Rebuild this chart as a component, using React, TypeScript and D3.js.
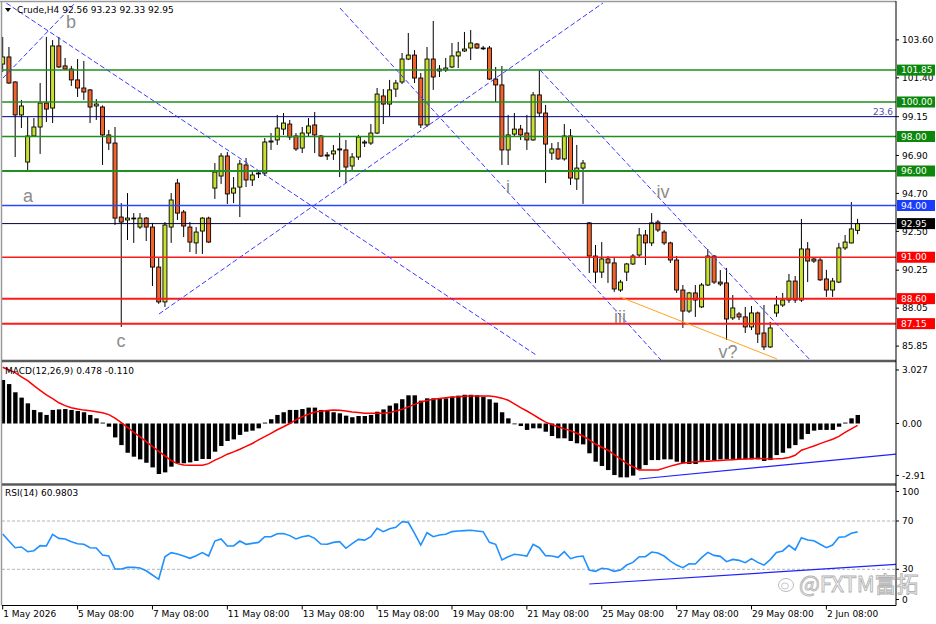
import React from "react";
import * as d3 from "d3";

type Candle = [number, number, number, number]; // open, high, low, close

const ohlc: Candle[] = [
  [102.2, 103.77, 101.74, 102.61], [102.61, 103.19, 101.05, 101.1], [101.16, 101.2, 96.81, 99.25],
  [99.25, 100.12, 98.49, 99.77], [96.52, 99.13, 96.06, 98.03], [98.03, 99.07, 97.98, 98.55],
  [98.55, 101.1, 96.99, 99.94], [99.94, 103.77, 98.84, 99.59], [99.65, 103.59, 98.78, 103.25],
  [103.25, 103.77, 101.97, 102.03], [102.09, 102.55, 101.86, 101.91], [101.91, 102.09, 100.93, 101.28],
  [101.28, 102.49, 100.29, 100.81], [100.81, 102.38, 100.12, 100.58], [100.7, 100.75, 98.78, 99.71],
  [99.77, 100.17, 98.96, 99.88], [99.71, 99.8, 96.35, 98.09], [98.09, 98.38, 97.22, 97.62],
  [97.62, 98.55, 92.87, 93.27], [93.33, 94.14, 86.96, 93.04], [93.16, 94.72, 92.0, 93.27],
  [93.27, 93.56, 91.83, 93.25], [92.75, 93.56, 92.64, 93.27], [93.27, 93.33, 91.94, 92.75],
  [92.75, 92.99, 89.33, 90.43], [90.43, 90.96, 88.3, 88.41], [88.41, 93.04, 88.12, 92.87],
  [92.75, 94.72, 91.83, 94.32], [95.3, 95.54, 93.16, 93.56], [93.62, 93.74, 92.17, 92.81],
  [92.75, 93.04, 91.3, 91.88], [91.83, 92.75, 91.19, 92.46], [92.52, 93.33, 91.19, 93.27],
  [93.27, 93.35, 91.83, 91.88], [95.01, 96.46, 94.38, 95.94], [95.71, 97.04, 95.25, 96.87],
  [96.87, 97.1, 94.09, 94.67], [94.72, 95.65, 94.14, 95.01], [95.07, 96.64, 93.33, 96.41],
  [96.35, 96.75, 95.07, 95.48], [95.48, 96.06, 95.13, 95.77], [95.83, 96.06, 95.59, 95.88],
  [95.88, 97.91, 95.71, 97.68], [97.68, 98.2, 97.22, 97.74], [97.8, 99.25, 97.51, 98.49],
  [98.43, 99.36, 98.09, 98.78], [98.72, 98.96, 97.8, 97.97], [98.03, 98.2, 97.16, 97.28],
  [97.33, 98.55, 97.04, 98.2], [98.2, 99.07, 97.97, 98.61], [98.67, 99.42, 97.04, 98.09],
  [98.03, 98.09, 96.81, 96.87], [96.93, 97.1, 96.64, 96.87], [96.99, 97.51, 96.64, 97.16],
  [97.28, 98.2, 95.65, 97.22], [97.22, 97.8, 95.3, 96.23], [96.29, 97.04, 96.06, 96.81],
  [96.81, 98.09, 96.64, 97.97], [97.62, 97.8, 97.39, 97.68], [97.62, 98.72, 97.51, 98.2],
  [98.2, 100.81, 98.14, 100.46], [100.35, 100.75, 98.72, 99.88], [99.88, 101.28, 99.19, 100.7],
  [100.75, 101.28, 100.29, 101.1], [101.16, 102.84, 101.04, 102.49], [102.49, 104.0, 102.43, 102.72],
  [102.72, 103.01, 101.1, 101.39], [101.39, 101.68, 98.49, 98.67], [98.67, 103.19, 98.55, 102.49],
  [102.49, 104.7, 100.7, 101.45], [101.91, 102.14, 101.45, 101.8], [101.86, 102.55, 101.74, 101.97],
  [102.03, 103.42, 101.97, 102.67], [102.67, 103.48, 101.97, 102.9], [102.96, 104.06, 102.9, 103.07],
  [103.13, 104.17, 102.43, 103.42], [103.36, 103.42, 103.07, 103.13], [103.13, 103.25, 103.01, 103.1],
  [103.13, 103.25, 101.28, 101.33], [101.33, 102.03, 100.0, 100.99], [100.99, 102.09, 96.35, 97.22],
  [97.22, 99.25, 96.35, 98.09], [98.14, 99.36, 98.03, 98.43], [98.43, 98.67, 97.8, 98.09],
  [98.2, 99.25, 97.22, 97.8], [97.8, 100.58, 97.75, 100.41], [100.41, 101.86, 99.13, 99.36],
  [99.36, 99.83, 95.3, 97.56], [97.04, 97.62, 96.64, 97.28], [97.28, 97.68, 96.64, 96.7],
  [96.7, 98.72, 96.6, 98.03], [98.03, 98.43, 95.19, 95.59], [95.54, 97.51, 94.9, 96.17],
  [96.17, 96.64, 94.09, 96.46], [92.99, 93.04, 90.09, 91.07], [91.07, 91.71, 89.51, 90.14],
  [90.14, 91.88, 89.8, 90.9], [90.9, 91.07, 89.51, 90.67], [90.67, 91.01, 88.99, 89.16],
  [89.1, 89.69, 88.99, 89.56], [90.14, 90.67, 89.62, 90.61], [90.61, 91.19, 90.55, 91.07],
  [91.13, 92.7, 90.96, 92.29], [92.29, 92.58, 90.55, 91.83], [91.83, 93.56, 91.65, 92.99],
  [93.04, 93.16, 92.46, 92.58], [92.46, 92.58, 91.71, 91.83], [91.83, 91.9, 90.67, 90.84],
  [90.84, 91.07, 88.93, 89.1], [89.1, 89.39, 86.9, 87.88], [87.88, 88.99, 87.77, 88.93],
  [88.93, 89.39, 87.54, 88.52], [88.12, 89.51, 88.06, 89.39], [89.39, 91.48, 89.33, 91.07],
  [91.07, 91.13, 89.45, 89.56], [89.56, 90.26, 89.33, 89.45], [89.51, 90.38, 86.2, 87.42],
  [87.48, 88.81, 87.36, 88.06], [87.71, 87.83, 87.36, 87.54], [87.54, 88.12, 86.61, 86.96],
  [86.96, 88.17, 86.78, 87.77], [87.77, 87.85, 86.03, 86.55], [86.61, 88.23, 85.62, 85.8],
  [85.8, 87.25, 85.74, 86.9], [87.77, 88.75, 87.54, 88.23], [88.23, 88.93, 88.12, 88.52],
  [88.52, 90.03, 88.35, 89.62], [89.62, 89.91, 88.35, 88.52], [88.52, 93.22, 88.41, 91.48],
  [91.48, 91.88, 89.56, 90.78], [90.9, 91.01, 90.67, 90.78], [90.84, 90.96, 89.62, 89.69],
  [89.74, 90.27, 88.7, 89.1], [89.1, 89.8, 88.7, 89.62], [89.56, 91.83, 89.5, 91.54],
  [91.54, 92.29, 91.42, 91.88], [91.83, 94.2, 91.8, 92.64], [92.56, 93.23, 92.33, 92.95],
];

const macdHist = [
  2.44, 2.21, 1.75, 1.45, 1.13, 0.76, 0.63, 0.48, 0.76, 0.79,
  0.81, 0.76, 0.7, 0.63, 0.48, 0.29, 0.05, -0.18, -0.78, -1.21,
  -1.64, -1.86, -2.01, -2.2, -2.46, -2.83, -2.74, -2.42, -2.23, -2.23,
  -2.18, -2.1, -1.99, -1.99, -1.58, -1.26, -0.98, -0.89, -0.64, -0.46,
  -0.4, -0.27, 0.05, 0.24, 0.48, 0.63, 0.76, 0.76, 0.81, 0.89,
  0.89, 0.76, 0.72, 0.63, 0.57, 0.44, 0.35, 0.42, 0.42, 0.48,
  0.66, 0.79, 1.0, 1.13, 1.36, 1.58, 1.58, 1.28, 1.41, 1.41,
  1.41, 1.41, 1.5, 1.56, 1.61, 1.61, 1.58, 1.5, 1.36, 1.17,
  0.63, 0.29, -0.02, -0.14, -0.36, -0.27, -0.27, -0.46, -0.7, -0.83,
  -0.83, -0.98, -1.11, -1.17, -1.67, -2.14, -2.38, -2.61, -2.89, -3.02,
  -3.02, -2.92, -2.57, -2.33, -2.05, -2.05, -2.01, -2.01, -2.14, -2.23,
  -2.27, -2.27, -2.14, -2.05, -2.05, -2.01, -2.01, -2.01, -2.01, -2.01,
  -2.01, -2.01, -2.1, -2.05, -1.77, -1.64, -1.39, -1.21, -0.89, -0.59,
  -0.4, -0.36, -0.36, -0.36, -0.18, 0.05, 0.29, 0.478,
];

const macdSignal = [
  3.15, 3.0, 2.85, 2.62, 2.4, 2.12, 1.86, 1.6, 1.39, 1.16,
  1.0, 0.88, 0.81, 0.75, 0.71, 0.66, 0.6, 0.5, 0.3, 0.05,
  -0.22, -0.49, -0.75, -1.02, -1.29, -1.56, -1.82, -2.08, -2.25, -2.33,
  -2.34, -2.34, -2.34, -2.25, -2.05, -1.9, -1.72, -1.59, -1.44, -1.28,
  -1.12, -0.92, -0.74, -0.55, -0.35, -0.18, 0.0, 0.2, 0.38, 0.52,
  0.64, 0.68, 0.73, 0.76, 0.74, 0.7, 0.65, 0.62, 0.58, 0.57,
  0.57, 0.57, 0.61, 0.7, 0.79, 0.93, 1.07, 1.2, 1.29, 1.36,
  1.4, 1.44, 1.48, 1.5, 1.53, 1.54, 1.54, 1.54, 1.54, 1.5,
  1.42, 1.3, 1.1, 0.89, 0.7, 0.5, 0.28, 0.08, -0.06, -0.18,
  -0.3, -0.4, -0.55, -0.7, -0.92, -1.15, -1.33, -1.5, -1.75, -1.98,
  -2.23, -2.42, -2.6, -2.61, -2.61, -2.61, -2.5, -2.39, -2.3, -2.22,
  -2.18, -2.15, -2.13, -2.11, -2.09, -2.07, -2.05, -2.03, -2.01, -1.99,
  -1.97, -1.95, -1.97, -1.99, -1.98, -1.96, -1.9, -1.78, -1.5, -1.38,
  -1.26, -1.13, -1.0, -0.88, -0.72, -0.5, -0.3, -0.11,
];

const rsiValues = [
  59.2, 53.4, 47.9, 48.5, 44.6, 45.4, 49.6, 49.3, 59.0, 55.6,
  55.1, 52.9, 51.2, 50.7, 47.9, 47.6, 41.8, 41.0, 30.2, 30.2,
  31.6, 31.6, 31.1, 28.8, 25.3, 21.7, 40.4, 43.8, 42.7, 41.0,
  39.1, 41.3, 43.8, 41.0, 53.4, 55.1, 49.3, 49.3, 53.4, 50.7,
  51.5, 52.3, 57.0, 57.0, 59.5, 59.7, 57.9, 55.1, 57.0, 57.9,
  55.6, 50.9, 50.7, 52.3, 52.9, 47.4, 51.2, 54.8, 54.2, 57.0,
  63.9, 61.2, 63.6, 64.8, 69.4, 68.9, 59.7, 50.1, 60.3, 57.0,
  58.4, 59.0, 61.2, 61.7, 62.0, 62.3, 61.7, 61.2, 52.3, 50.7,
  37.7, 40.4, 42.4, 41.8, 41.0, 50.7, 47.9, 41.3, 41.0, 39.9,
  44.6, 38.8, 40.4, 41.0, 29.4, 28.3, 30.8, 30.2, 28.3, 29.4,
  33.5, 35.7, 40.4, 40.4, 44.3, 43.5, 41.0, 36.8, 33.5, 31.3,
  34.6, 34.4, 39.6, 44.0, 41.5, 40.7, 36.3, 38.2, 37.4, 35.5,
  38.8, 35.7, 33.5, 38.0, 44.0, 45.2, 49.8, 46.0, 56.2, 54.3,
  53.7, 50.7, 47.9, 50.1, 56.5, 57.0, 59.8, 60.9803,
];

const resistanceLevels = [101.85, 100.0, 98.0, 96.0];
const supportLevels = [91.0, 88.6, 87.15];
const pivotLevel = 94.0;
const fibLevel = 99.15;
const fibText = "23.6";
const lastPrice = 92.95;

const priceTicks = [103.6, 101.4, 99.15, 96.9, 94.7, 92.5, 90.25, 88.05, 85.85];
const macdTicks = [3.0, 0, -2.91];
const macdTickText = ["3.027", "0.00", "-2.91"];
const rsiTicks = [100, 70, 30, 0];
const rsiLevels = [70, 30];
const dateLabels = [
  "1 May 2026", "5 May 08:00", "7 May 08:00", "11 May 08:00", "13 May 08:00", "15 May 08:00",
  "19 May 08:00", "21 May 08:00", "25 May 08:00", "27 May 08:00", "29 May 08:00", "2 Jun 08:00",
];
const barsPerLabel = 12;

// wave counts: [text, bar, price]
const waveLabels: [string, number, number][] = [
  ["b", 10.95, 104.3], ["a", 4.05, 94.2], ["c", 18.96, 85.8], ["i", 80.98, 94.72],
  ["iv", 105.82, 94.43], ["iii", 98.93, 87.19], ["v?", 116.23, 85.16],
];

// dashed channel lines: [bar0, price0, bar1, price1]
const channelLines: [number, number, number, number][] = [
  [-0.4, 105.97, 85.5, 85.33],
  [0.05, 101.39, 11.6, 105.74],
  [25.05, 87.71, 96.2, 105.74],
  [54.05, 105.45, 105.5, 85.04],
  [86.1, 101.86, 129.4, 85.04],
];
const wedgeLine: [number, number, number, number] = [98.9, 88.7, 124.1, 85.1];
const macdTrend: [number, number, number, number] = [102, -3.11, 143.2, -1.71];
const rsiTrend: [number, number, number, number] = [94, 17.8, 143.2, 34.1];

export default function App() {
  const W = 936, H = 624;
  const L = 2, R = 896;
  const pTop = 2, pBot = 360, mTop = 362, mBot = 483.5, rTop = 485.5, rBot = 605.5;
  const font = "'DejaVu Sans', Verdana, sans-serif";

  const x = d3.scaleLinear().domain([0, 137]).range([2.7, 2.7 + 6.24 * 137]);
  const yP = d3.scaleLinear().domain([85.043, 105.797]).range([pBot, pTop]);
  const yM = d3.scaleLinear().domain([-3.363, 3.447]).range([mBot, mTop]);
  const yR = d3.scaleLinear().domain([0, 100]).range([rBot, 484.8]);

  const signalPath = d3.line<number>().x((_, i) => x(i)).y((d) => yM(d))(macdSignal) || "";
  const rsiPath = d3.line<number>().x((_, i) => x(i)).y((d) => yR(d))(rsiValues) || "";

  const bull = "#c9e033", bear = "#f2632b";
  const green = "#1f8f1f", red = "#ff1a1a";
  const last = rsiValues.length - 1;

  const levelBox = (p: number, bg: string, key: string) => (
    <g key={key}>
      <rect x={897} y={yP(p) - 5.5} width={38} height={11} fill={bg} />
      <text x={901} y={yP(p)} dy="0.35em" fontSize={9} fill="#fff" fontFamily={font}>{p.toFixed(2)}</text>
    </g>
  );

  return (
    <svg width={W} height={H} style={{ position: "absolute", left: 0, top: 0, background: "#fff" }}>
      <defs>
        <clipPath id="cp"><rect x={L} y={pTop} width={R - L} height={pBot - pTop} /></clipPath>
        <clipPath id="cm"><rect x={L} y={mTop} width={R - L} height={mBot - mTop} /></clipPath>
        <clipPath id="cr"><rect x={L} y={rTop} width={R - L} height={rBot - rTop} /></clipPath>
      </defs>
      <rect x={0} y={0} width={W} height={H} fill="#fff" />

      {/* price pane */}
      <g clipPath="url(#cp)">
        {ohlc.map(([o, h, l, c], i) => {
          const up = c >= o;
          const top = yP(Math.max(o, c)), bot = yP(Math.min(o, c));
          return (
            <g key={i}>
              <line x1={x(i)} x2={x(i)} y1={yP(h)} y2={yP(l)} stroke="#000" strokeWidth={1} />
              <rect x={x(i) - 2} y={top} width={4} height={Math.max(bot - top, 0.8)}
                fill={up ? bull : bear} stroke="#000" strokeWidth={0.9} />
            </g>
          );
        })}
        {resistanceLevels.map((p, i) => (
          <line key={"r" + i} x1={L} x2={R} y1={yP(p)} y2={yP(p)} stroke={green} strokeWidth={p === 96 ? 2 : 1.5} />
        ))}
        {supportLevels.map((p, i) => (
          <line key={"s" + i} x1={L} x2={R} y1={yP(p)} y2={yP(p)} stroke={red} strokeWidth={p === 91 ? 1.5 : 2} />
        ))}
        <line x1={L} x2={R} y1={yP(pivotLevel)} y2={yP(pivotLevel)} stroke="#2848ff" strokeWidth={1.5} />
        <line x1={L} x2={R} y1={yP(fibLevel)} y2={yP(fibLevel)} stroke="#000080" strokeWidth={1} />
        <line x1={L} x2={R} y1={yP(lastPrice)} y2={yP(lastPrice)} stroke="#00003c" strokeWidth={1} />
        {channelLines.map(([b0, p0, b1, p1], i) => (
          <line key={"c" + i} x1={x(b0)} y1={yP(p0)} x2={x(b1)} y2={yP(p1)}
            stroke="#3a3aff" strokeWidth={1} strokeDasharray="5 2.5" />
        ))}
        <line x1={x(wedgeLine[0])} y1={yP(wedgeLine[1])} x2={x(wedgeLine[2])} y2={yP(wedgeLine[3])}
          stroke="#ffa51e" strokeWidth={1} />
        {waveLabels.map(([t, b, p]) => (
          <text key={t} x={x(b)} y={yP(p)} textAnchor="middle" fontSize={18} fill="#8c8c8c"
            fontFamily="'Liberation Sans', Arial, sans-serif">{t}</text>
        ))}
        <text x={893} y={yP(fibLevel) - 2} textAnchor="end" fontSize={9} fill="#5050b0" fontFamily={font}>{fibText}</text>
      </g>
      {/* header */}
      <path d="M5,8 L11,8 L8,12 Z" fill="#000" />
      <text x={17} y={13} fontSize={9} fontFamily={font} fill="#000">
        {`Crude,H4  ${ohlc[last].map((v) => v.toFixed(2)).join(" ")}`}
      </text>

      {/* price axis */}
      {priceTicks.map((p) => (
        <g key={p}>
          <line x1={R} x2={R + 3} y1={yP(p)} y2={yP(p)} stroke="#000" />
          <text x={902} y={yP(p)} dy="0.35em" fontSize={9} fontFamily={font} fill="#000">{p.toFixed(2)}</text>
        </g>
      ))}
      {resistanceLevels.map((p, i) => levelBox(p, "#0b870b", "rb" + i))}
      {levelBox(pivotLevel, "#1a3cff", "pv")}
      {levelBox(lastPrice, "#000", "lp")}
      {supportLevels.map((p, i) => levelBox(p, "#ff0000", "sb" + i))}

      {/* MACD pane */}
      <g clipPath="url(#cm)">
        {macdHist.map((v, i) => (
          <rect key={i} x={x(i) - 2} width={4.4} y={Math.min(yM(0), yM(v))}
            height={Math.max(Math.abs(yM(v) - yM(0)), 0.8)} fill="#000" />
        ))}
        <path d={signalPath} fill="none" stroke="#ff0000" strokeWidth={1.5} />
        <line x1={x(macdTrend[0])} y1={yM(macdTrend[1])} x2={x(macdTrend[2])} y2={yM(macdTrend[3])}
          stroke="#2020ff" strokeWidth={1.2} />
      </g>
      <text x={5} y={374} fontSize={9} fontFamily={font} fill="#000">
        {`MACD(12,26,9) ${macdHist[last].toFixed(3)} ${macdSignal[last].toFixed(3)}`}
      </text>
      {macdTicks.map((v, i) => (
        <g key={"m" + i}>
          <line x1={R} x2={R + 3} y1={yM(v)} y2={yM(v)} stroke="#000" />
          <text x={902} y={yM(v)} dy="0.35em" fontSize={9} fontFamily={font} fill="#000">{macdTickText[i]}</text>
        </g>
      ))}

      {/* RSI pane */}
      <g clipPath="url(#cr)">
        {rsiLevels.map((v) => (
          <line key={v} x1={L} x2={R} y1={yR(v)} y2={yR(v)} stroke="#b4b4b4" strokeDasharray="3 2" strokeWidth={1} />
        ))}
        <path d={rsiPath} fill="none" stroke="#1e90ff" strokeWidth={1.6} />
        <line x1={x(rsiTrend[0])} y1={yR(rsiTrend[1])} x2={x(rsiTrend[2])} y2={yR(rsiTrend[3])}
          stroke="#2020ff" strokeWidth={1.2} />
      </g>
      <text x={5} y={496} fontSize={9} fontFamily={font} fill="#000">
        {`RSI(14) ${rsiValues[last].toFixed(4)}`}
      </text>
      {rsiTicks.map((v) => {
        const yy = Math.min(Math.max(yR(v), rTop + 6), rBot - 6);
        return (
          <g key={"r" + v}>
            <line x1={R} x2={R + 3} y1={yy} y2={yy} stroke="#000" />
            <text x={902} y={yy} dy="0.35em" fontSize={9} fontFamily={font} fill="#000">{v}</text>
          </g>
        );
      })}

      {/* frame */}
      <line x1={0} x2={R} y1={1.5} y2={1.5} stroke="#9a9a9a" strokeWidth={1.5} />
      <line x1={1.5} x2={1.5} y1={1} y2={rBot} stroke="#9a9a9a" strokeWidth={1.5} />
      <line x1={L} x2={R} y1={361} y2={361} stroke="#5a5a5a" strokeWidth={2.5} />
      <line x1={L} x2={R} y1={484.5} y2={484.5} stroke="#5a5a5a" strokeWidth={2.5} />
      <line x1={R} x2={R} y1={1} y2={rBot} stroke="#000" strokeWidth={1} />
      <line x1={L} x2={R} y1={rBot} y2={rBot} stroke="#000" strokeWidth={1} />

      {/* date axis */}
      {dateLabels.map((t, k) => {
        const xx = x(k * barsPerLabel);
        return (
          <g key={t}>
            <line x1={xx} x2={xx} y1={rBot} y2={rBot + 4} stroke="#000" />
            <text x={xx + 0.5} y={617} fontSize={9} fontFamily={font} fill="#000">{t}</text>
          </g>
        );
      })}

      {/* watermark */}
      <g opacity={0.85}>
        <ellipse cx={786} cy={585} rx={7.5} ry={6.5} fill="none" stroke="#b0b0b0" strokeWidth={1} />
        <ellipse cx={785} cy={586} rx={3.5} ry={3} fill="none" stroke="#b0b0b0" strokeWidth={0.8} />
        <text x={799} y={592} fontSize={22} fill="#ffffff" fillOpacity={0.5} stroke="#a6a6a6" strokeWidth={0.9}
          fontFamily="'Noto Sans CJK SC', 'Noto Sans', sans-serif">@FXTM富拓</text>
      </g>
    </svg>
  );
}
